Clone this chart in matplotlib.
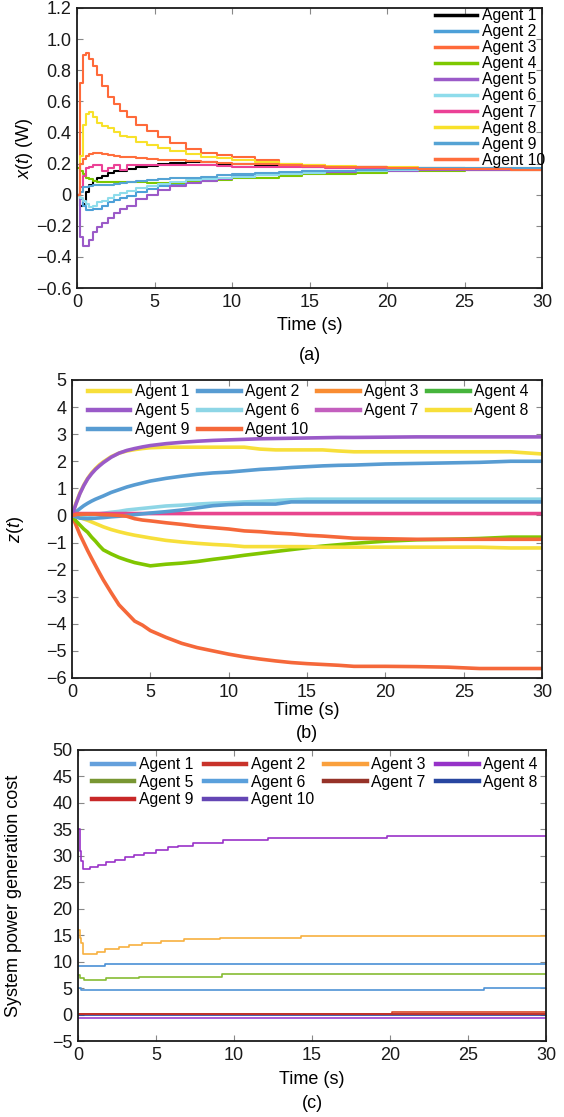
import numpy as np
import matplotlib
matplotlib.use('Agg')
import matplotlib.pyplot as plt
from matplotlib.lines import Line2D
from matplotlib.ticker import FuncFormatter

plt.rcParams['font.family'] = ['Liberation Sans', 'DejaVu Sans']
plt.rcParams['mathtext.fontset'] = 'custom'
plt.rcParams['mathtext.rm'] = 'Liberation Sans'
plt.rcParams['mathtext.it'] = 'Liberation Sans:italic'

agents = ['Agent %d' % i for i in range(1, 11)]
xticks = [0, 5, 10, 15, 20, 25, 30]

# ---- (a) x(t) (W) ----
ta = [0, 0.2, 0.4, 0.6, 0.8, 1.0, 1.3, 1.6, 2.0, 2.4, 2.8, 3.2, 3.8, 4.5, 5.2,
      6.0, 7.0, 8.0, 9.0, 10.0, 11.5, 13.0, 14.5, 16.0, 18.0, 20.0, 22.0, 25.0, 28.0, 30.0]
xa = [
    [0, -0.07, -0.06, 0.02, 0.06, 0.09, 0.11, 0.12, 0.14, 0.15, 0.155, 0.165, 0.175, 0.185, 0.2,
     0.205, 0.21, 0.21, 0.2, 0.195, 0.19, 0.185, 0.18, 0.175, 0.175, 0.17, 0.17, 0.165, 0.165, 0.165],
    [0, -0.03, -0.07, -0.1, -0.1, -0.09, -0.09, -0.07, -0.05, -0.035, -0.02, -0.01, 0.015, 0.035, 0.055,
     0.07, 0.085, 0.1, 0.11, 0.12, 0.13, 0.14, 0.15, 0.155, 0.16, 0.165, 0.165, 0.165, 0.165, 0.165],
    [0, 0.72, 0.9, 0.91, 0.87, 0.83, 0.77, 0.7, 0.63, 0.58, 0.54, 0.5, 0.45, 0.41, 0.37,
     0.33, 0.295, 0.27, 0.255, 0.24, 0.22, 0.2, 0.19, 0.18, 0.175, 0.17, 0.165, 0.16, 0.16, 0.16],
    [0.17, 0.15, 0.13, 0.11, 0.1, 0.09, 0.08, 0.08, 0.08, 0.08, 0.08, 0.08, 0.08, 0.075, 0.075,
     0.075, 0.08, 0.085, 0.095, 0.105, 0.11, 0.12, 0.13, 0.135, 0.14, 0.15, 0.155, 0.16, 0.16, 0.16],
    [0, -0.27, -0.33, -0.33, -0.29, -0.24, -0.21, -0.18, -0.15, -0.12, -0.09, -0.07, -0.03, 0.0, 0.03,
     0.055, 0.075, 0.09, 0.1, 0.115, 0.125, 0.135, 0.14, 0.145, 0.15, 0.155, 0.16, 0.16, 0.16, 0.16],
    [0, -0.02, -0.04, -0.06, -0.08, -0.07, -0.05, -0.04, -0.02, 0.0, 0.01, 0.025, 0.04, 0.055, 0.07,
     0.08, 0.095, 0.1, 0.11, 0.115, 0.125, 0.135, 0.14, 0.15, 0.155, 0.16, 0.165, 0.165, 0.165, 0.165],
    [0, 0.05, 0.12, 0.17, 0.18, 0.19, 0.19, 0.15, 0.17, 0.19, 0.16, 0.19, 0.19, 0.19, 0.19,
     0.19, 0.19, 0.19, 0.185, 0.18, 0.18, 0.175, 0.175, 0.17, 0.17, 0.165, 0.165, 0.165, 0.165, 0.165],
    [0, 0.25, 0.45, 0.52, 0.53, 0.5, 0.46, 0.44, 0.43, 0.4, 0.38, 0.37, 0.34, 0.32, 0.3,
     0.28, 0.26, 0.245, 0.235, 0.225, 0.21, 0.2, 0.19, 0.185, 0.18, 0.175, 0.17, 0.17, 0.17, 0.17],
    [0, 0.02, 0.05, 0.05, 0.055, 0.06, 0.06, 0.06, 0.065, 0.07, 0.075, 0.08, 0.09, 0.095, 0.1,
     0.105, 0.11, 0.115, 0.125, 0.13, 0.14, 0.145, 0.15, 0.155, 0.16, 0.165, 0.17, 0.17, 0.17, 0.17],
    [0, 0.2, 0.23, 0.25, 0.26, 0.265, 0.265, 0.26, 0.255, 0.25, 0.245, 0.24, 0.235, 0.23, 0.225,
     0.22, 0.215, 0.21, 0.205, 0.2, 0.195, 0.19, 0.185, 0.18, 0.175, 0.17, 0.165, 0.165, 0.16, 0.16],
]
cols_a = ['#000000', '#4DA0D8', '#FF6A3A', '#7DC800', '#9B5AC8',
          '#8EDCEB', '#EB4196', '#F8E12A', '#55A3D4', '#FF6E3C']

# ---- (b) z(t) ----
tb = [0, 0.25, 0.5, 0.75, 1.0, 1.25, 1.5, 1.75, 2.0, 2.5, 3.0, 3.5, 4.0, 4.5, 5.0, 6.0, 7.0, 8.0, 9.0,
      10, 11, 12, 13, 14, 15, 16, 17, 18, 20, 22, 24, 26, 28, 30]
zb = [
    [0, 0.45, 0.82, 1.12, 1.37, 1.57, 1.73, 1.87, 1.98, 2.17, 2.3, 2.38, 2.43, 2.47, 2.5, 2.52, 2.52, 2.52, 2.52,
     2.52, 2.52, 2.45, 2.42, 2.42, 2.42, 2.42, 2.38, 2.35, 2.35, 2.35, 2.35, 2.35, 2.35, 2.27],
    [0, 0.13, 0.25, 0.36, 0.45, 0.53, 0.6, 0.66, 0.72, 0.85, 0.95, 1.05, 1.13, 1.2, 1.27, 1.37, 1.45, 1.52, 1.57,
     1.6, 1.65, 1.7, 1.73, 1.77, 1.8, 1.83, 1.85, 1.86, 1.9, 1.92, 1.94, 1.96, 2.0, 2.0],
    [0, -0.35, -0.7, -1.0, -1.3, -1.58, -1.85, -2.12, -2.38, -2.85, -3.3, -3.6, -3.9, -4.05, -4.25, -4.5, -4.72,
     -4.88, -5.0, -5.12, -5.22, -5.3, -5.37, -5.43, -5.47, -5.5, -5.53, -5.57, -5.57, -5.58, -5.6, -5.65, -5.65, -5.65],
    [0, -0.2, -0.35, -0.5, -0.62, -0.8, -0.95, -1.12, -1.27, -1.42, -1.55, -1.65, -1.74, -1.8, -1.86, -1.8, -1.76,
     -1.7, -1.62, -1.55, -1.47, -1.4, -1.33, -1.26, -1.19, -1.13, -1.08, -1.03, -0.95, -0.9, -0.88, -0.85, -0.8, -0.8],
    [0, 0.42, 0.8, 1.1, 1.35, 1.54, 1.7, 1.83, 1.95, 2.15, 2.3, 2.4, 2.47, 2.53, 2.58, 2.65, 2.7, 2.74, 2.77,
     2.79, 2.81, 2.83, 2.84, 2.85, 2.86, 2.87, 2.88, 2.88, 2.89, 2.9, 2.9, 2.9, 2.9, 2.9],
    [0, -0.03, -0.05, -0.03, 0.0, 0.02, 0.05, 0.06, 0.08, 0.12, 0.15, 0.2, 0.23, 0.26, 0.29, 0.35, 0.38, 0.42, 0.45,
     0.47, 0.5, 0.52, 0.55, 0.58, 0.6, 0.6, 0.6, 0.6, 0.6, 0.6, 0.6, 0.6, 0.6, 0.6],
    [0, 0.07, 0.07, 0.07, 0.07, 0.07, 0.07, 0.07, 0.07, 0.07, 0.07, 0.07, 0.07, 0.07, 0.07, 0.07, 0.07, 0.07, 0.07,
     0.07, 0.07, 0.07, 0.07, 0.07, 0.07, 0.07, 0.07, 0.07, 0.07, 0.07, 0.07, 0.07, 0.07, 0.07],
    [0, -0.04, -0.08, -0.13, -0.18, -0.24, -0.3, -0.36, -0.42, -0.52, -0.6, -0.67, -0.73, -0.78, -0.83, -0.92, -0.98,
     -1.03, -1.07, -1.1, -1.15, -1.15, -1.15, -1.15, -1.15, -1.17, -1.17, -1.17, -1.17, -1.17, -1.17, -1.17, -1.2, -1.2],
    [0, -0.05, -0.1, -0.11, -0.12, -0.11, -0.1, -0.09, -0.08, -0.05, -0.03, 0.0, 0.03, 0.06, 0.09, 0.14, 0.2, 0.28, 0.36,
     0.4, 0.42, 0.42, 0.42, 0.5, 0.5, 0.5, 0.5, 0.5, 0.5, 0.5, 0.5, 0.5, 0.5, 0.5],
    [0, 0.03, 0.05, 0.05, 0.05, 0.05, 0.05, 0.04, 0.03, 0.02, 0.0, -0.03, -0.12, -0.17, -0.2, -0.27, -0.33, -0.4, -0.45,
     -0.5, -0.57, -0.6, -0.65, -0.68, -0.73, -0.76, -0.8, -0.84, -0.86, -0.88, -0.88, -0.88, -0.88, -0.88],
]
cols_b = ['#F7DF3A', '#589CD2', '#F5683A', '#80C600', '#9A5AC8',
          '#8ED6E6', '#E8458E', '#F7DF3A', '#589CD2', '#F5683A']
leg_b = ['#F7DF3A', '#589CD2', '#F98C32', '#46B43C', '#9A5AC8',
         '#8ED6E6', '#C35FBE', '#F7DF3A', '#589CD2', '#F5683A']

# ---- (c) system power generation cost ----
tc = [
    [0, 0.2, 26, 30],
    [0, 20.1, 30],
    [0, 0.1, 0.2, 0.35, 1.2, 1.75, 2.6, 3.3, 4.1, 5.3, 6.8, 9.1, 14.3, 30],
    [0, 0.1, 0.2, 0.35, 0.8, 1.3, 1.8, 2.4, 3.0, 3.6, 4.2, 5.0, 5.8, 6.4, 7.4, 9.3, 12.2, 19.8, 30],
    [0, 0.15, 0.4, 1.8, 3.9, 9.2, 30],
    [0, 1.7, 30],
    [0, 30],
    [0, 30],
    [0, 30],
    [0, 30],
]
cc = [
    [5.1, 4.6, 5.0, 5.0],
    [0.1, 0.45, 0.45],
    [16, 14.5, 13.5, 11.4, 11.9, 12.3, 12.7, 13.1, 13.5, 13.9, 14.2, 14.5, 14.8, 14.8],
    [35, 31, 29, 27.6, 27.9, 28.3, 28.8, 29.3, 29.8, 30.2, 30.6, 31.1, 31.6, 31.9, 32.5, 33.0, 33.3, 33.7, 33.7],
    [7.4, 6.9, 6.5, 6.85, 7.15, 7.6, 7.6],
    [9.2, 9.55, 9.55],
    [0.05, 0.05],
    [0.0, 0.0],
    [0.1, 0.1],
    [-0.7, -0.7],
]
cols_c = ['#4F93D6', '#D8482A', '#F7B040', '#9A32C8', '#86BC34',
          '#4A90D6', '#963228', '#2846A0', '#C8322A', '#9A40D0']
leg_c = ['#64A0DC', '#C8322A', '#FAA03C', '#9632C8', '#789632',
         '#5AA0DC', '#963228', '#2846A0', '#C82828', '#6446B4']

W, H = 564, 1117
fig = plt.figure(figsize=(W / 100, H / 100), dpi=100)


def box(l, t, r, b):
    return fig.add_axes([l / W, 1 - b / H, (r - l) / W, (b - t) / H])


def style(ax):
    for s in ax.spines.values():
        s.set_linewidth(1.3)
        s.set_color('#1a1a1a')
    ax.tick_params(direction='in', top=True, right=True, length=4, width=0.8,
                   color='#888888', labelsize=13, pad=4, labelcolor='#1a1a1a')
    ax.set_xlim(0, 30)
    ax.set_xticks(xticks)


def legend(ax, colors, lw, anchor, ncol, spacing, colsp=0.5):
    hs = [Line2D([], [], color=c, lw=lw) for c in colors]
    order = [0, 4, 8, 1, 5, 9, 2, 6, 3, 7] if ncol == 4 else list(range(10))
    ax.legend([hs[i] for i in order], [agents[i] for i in order], ncol=ncol,
              loc='upper left', bbox_to_anchor=anchor, frameon=False, fontsize=11.3,
              handlelength=2.7, handletextpad=0.3, labelspacing=spacing,
              columnspacing=colsp, borderpad=0, borderaxespad=0)


# panel (a)
ax = box(77, 8, 542, 288)
for i in range(10):
    ax.plot(ta, xa[i], drawstyle='steps-post', color=cols_a[i], lw=1.5)
style(ax)
ax.set_ylim(-0.6, 1.2)
ax.set_yticks(np.arange(-0.6, 1.21, 0.2))
ax.yaxis.set_major_formatter(FuncFormatter(
    lambda v, p: '0' if abs(v) < 1e-9 else ('%.1f' % v).replace('-', '\u2212')))
ax.set_xlabel('Time (s)', fontsize=13, labelpad=5)
ax.set_ylabel('$x(t)$ (W)', fontsize=13)
ax.yaxis.set_label_coords(-0.09, 0.5)
legend(ax, cols_a, 2.5, (0.77, 1.0), 1, 0.07)
fig.text(310 / W, 1 - 356 / H, '(a)', ha='center', va='center', fontsize=13)

# panel (b)
ax = box(72, 380, 542, 678)
for i in range(10):
    ax.plot(tb, zb[i], color=cols_b[i], lw=2.6)
style(ax)
ax.set_ylim(-6, 5)
ax.set_yticks(range(-6, 6))
ax.set_xlabel('Time (s)', fontsize=13, labelpad=1)
ax.set_ylabel('$z(t)$', fontsize=13)
ax.yaxis.set_label_coords(-0.098, 0.5)
legend(ax, leg_b, 3.2, (0.034, 0.985), 4, 0.24, 0.55)
fig.text(307 / W, 1 - 733 / H, '(b)', ha='center', va='center', fontsize=13)

# panel (c)
ax = box(78, 750, 546, 1041)
for i in [0, 1, 2, 3, 4, 5, 7, 6, 8, 9]:
    ax.plot(tc[i], cc[i], drawstyle='steps-post', color=cols_c[i], lw=1.2)
style(ax)
ax.set_ylim(-5, 50)
ax.set_yticks(range(-5, 51, 5))
ax.set_xlabel('Time (s)', fontsize=13, labelpad=5)
ax.set_ylabel('System power generation cost', fontsize=13)
ax.yaxis.set_label_coords(-0.12, 0.5)
legend(ax, leg_c, 3.2, (0.03, 0.975), 4, 0.16, 0.65)
fig.text(312 / W, 1 - 1104 / H, '(c)', ha='center', va='center', fontsize=13)

fig.savefig('out.png', dpi=100)
